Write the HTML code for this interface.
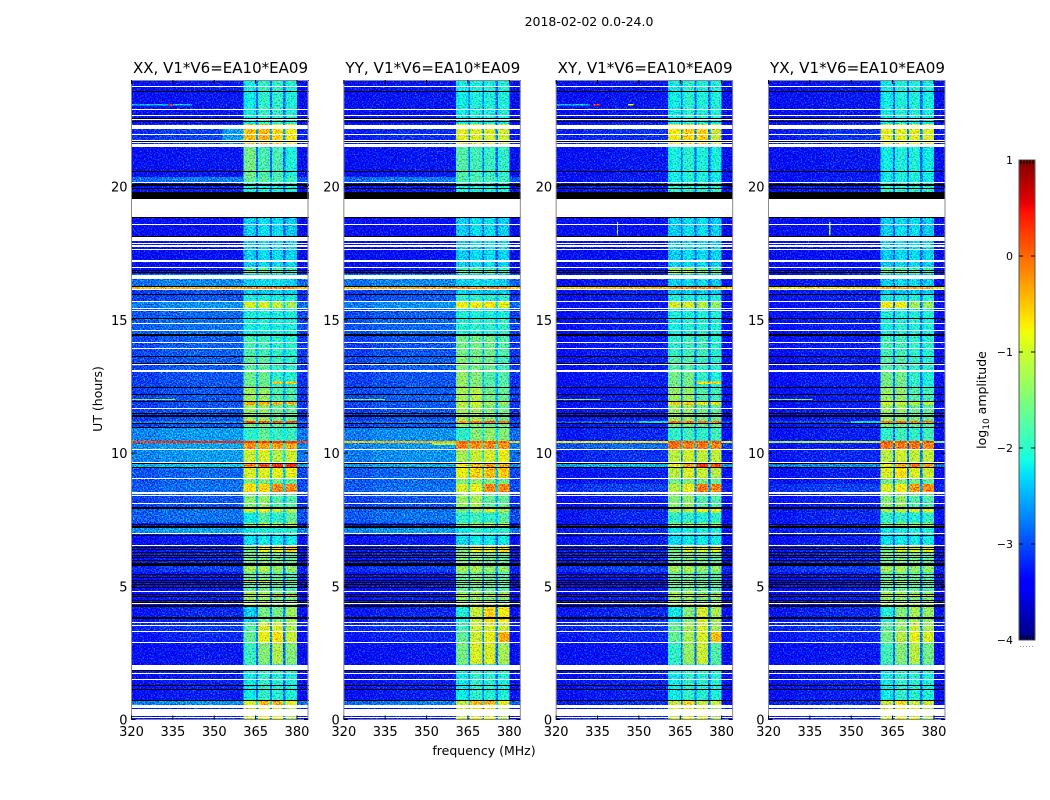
<!DOCTYPE html>
<html lang="en">
<head>
<meta charset="utf-8">
<title>2018-02-02 0.0-24.0</title>
<style>
  html, body { margin: 0; padding: 0; background: #fff; }
  svg { display: block; font-family: "DejaVu Sans", "Liberation Sans", sans-serif; fill: #000; }
</style>
</head>
<body>
<svg id="chart" width="1050" height="800" viewBox="0 0 1050 800">
  <defs>
    <filter id="speckle" x="0" y="0" width="1" height="1" color-interpolation-filters="sRGB">
      <feTurbulence type="fractalNoise" baseFrequency="0.72" numOctaves="2" seed="7" result="n"/>
      <feColorMatrix in="n" type="matrix" values="0.6 0 0 0 0.2  1.7 0 0 0 -0.35  0 1.2 0 0 -0.1  0 0 0 0 1" result="m"/>
      <feComposite in="SourceGraphic" in2="m" operator="arithmetic" k1="0" k2="1" k3="1" k4="-0.5"/>
    </filter>
  </defs>
  <text x="589" y="26" font-size="12.5" text-anchor="middle">2018-02-02 0.0-24.0</text>
  <text x="484" y="755" font-size="12.5" text-anchor="middle">frequency (MHz)</text>
  <text transform="translate(102,399) rotate(-90)" font-size="12.5" text-anchor="middle">UT (hours)</text>
  <text transform="translate(986,400) rotate(-90)" font-size="12.5" text-anchor="middle">log<tspan font-size="9" dy="3">10</tspan><tspan dy="-3"> amplitude</tspan></text>
  <g id="panels"></g>
  <g id="colorbar"></g>
</svg>
<script>
const panelTitles = ["XX, V1*V6=EA10*EA09", "YY, V1*V6=EA10*EA09", "XY, V1*V6=EA10*EA09", "YX, V1*V6=EA10*EA09"];
const freqTicks = [320, 335, 350, 365, 380];
const utTicks = [0, 5, 10, 15, 20];
const colorbarTicks = [1, 0, -1, -2, -3, -4];
const freqEdges = [320, 330, 340, 350, 360.6, 361.8, 364, 365.2, 365.8, 367, 369, 370.2, 370.9, 372, 374, 375, 375.9, 377, 379, 380, 384];
const columnSource = [0, 0, 0, 0, 1, 1, 1, 0, 2, 2, 2, 0, 3, 3, 3, 0, 4, 4, 4, 0];
const channelOffset = [-0.08, 0, 0.04, 0.04, -0.14, -0.03, -0.12, 0.5, -0.14, -0.03, -0.12, 0.5, -0.14, -0.03, -0.12, 0.5, -0.14, -0.03, -0.12, -0.15];

const segmentTopUT = [24, 22.34, 21.48, 20.36, 20.17, 18.85, 17.95, 16.94, 16.72, 16.51,
  16.23, 16.14, 15.97, 15.67, 15.42, 15.07, 14.39, 13.6, 13.08, 12.48,
  11.95, 11.8, 11.65, 11.2, 11.09, 10.98, 10.45, 10.38, 10.11, 9.62,
  9.46, 9.02, 8.84, 8.54, 8.39, 7.9, 7.77, 7.37, 7.19, 6.96,
  6.51, 6.29, 5.87, 5.74, 5.53, 5.23, 5.12, 4.82, 4.67, 4.6,
  4.33, 4.22, 3.66, 3.28, 2.87, 2.08, 0.71, 0.54];

/* log10 amplitude per time segment: [background, band A, band B, band C, band D] */
const xxLevels = [
[-3.35,-2.1,-1.9,-1.9,-2],[-3.1,-.4,-.35,-.55,-.7],[-3.35,-1.5,-1.75,-1.75,-2],[-2.8,-1.6,-1.6,-1.7,-1.8],[-3.3,-2,-2,-2,-2],
[-3.4,-2.3,-2.2,-2.2,-2.3],[-3.4,-2.3,-2.2,-2.2,-2.25],[-3.3,-1.6,-1.6,-1.7,-1.8],[-2.75,-2.3,-2.2,-2.2,-2.3],[-2.75,-2.3,-2.2,-2.2,-2.3],
[-.4,-.2,-.2,-.2,-.2],[-3,-2.3,-2.3,-2.3,-2.3],[-3,-2,-2,-2,-2],[-2.7,-.9,-.9,-1,-1.2],[-2.9,-2,-2,-2,-2],
[-2.85,-2.05,-2,-2,-2],[-2.95,-1.75,-1.8,-1.9,-1.95],[-2.95,-1.65,-1.65,-1.85,-1.9],[-3,-1.55,-1.55,-1.9,-1.95],[-3,-1.25,-1.3,-1.7,-1.75],
[-3,-.3,-.3,-.3,-.3],[-3,-1.3,-1.3,-1.6,-1.7],[-3,-1.3,-1.3,-1.5,-1.6],[-2.7,.25,.25,.25,.25],[-3,-1.5,-1.5,-1.6,-1.6],
[-2.65,-1.9,-1.6,-1.85,-1.85],[.35,.3,.3,.3,.3],[-2.6,-.15,-.2,-.2,-.25],[-2.65,-1,-.9,-1.1,-.95],[-2.4,-.1,.2,.45,.45],
[-2.9,-.9,-.85,-.8,-.8],[-2.9,-1.4,-1.4,-1.5,-1.6],[-2.85,-.6,-.5,-.1,-.1],[-2.95,-1.4,-1.3,-1.6,-1.6],[-3,-1.4,-1.3,-1.7,-1.7],
[-2.85,-.9,-.8,-1,-1.1],[-2.85,-2.1,-1.7,-1.9,-1.6],[-3.2,-1.3,-1,-1,-.9],[-2.6,-2.1,-2,-2,-1.9],[-3.3,-2.2,-2.1,-2.1,-2.1],
[-3.25,-1.5,-.8,-.8,-.5],[-3.25,-1.5,-1.4,-1.5,-1.6],[-3.25,-1.4,-1.3,-1.4,-1.5],[-3.1,-1.2,-1.15,-1.3,-1.3],[-3.35,-1.6,-1.5,-1.6,-1.7],
[-3.35,-.4,-.4,-1.3,-1.4],[-3.35,-1.6,-1.5,-1.6,-1.7],[-3.3,-1.2,-1.2,-1.4,-1.4],[-3.3,-1,-1,-.1,-.2],[-3.3,-1.3,-1.3,-1.4,-1.4],
[-3.3,-1.1,-1.1,-1.2,-1.2],[-3.25,-2.3,-1.5,-1.5,-1.25],[-3.15,-1.7,-.9,-.9,-1.2],[-3.25,-1.6,-.8,-.6,-1],[-3.35,-1.85,-1.4,-1.15,-1.4],
[-3.3,-2.1,-1.9,-1.95,-2],[-2.7,-.9,-.35,-.35,-.8],[-3.3,-1,-.8,-.8,-1.2]];

const yyLevels = [
[-3.35,-2.1,-2,-2,-2],[-3.2,-.85,-.9,-.9,-.95],[-3.35,-1.7,-1.8,-1.85,-1.9],[-2.8,-1.7,-1.7,-1.75,-1.8],[-3.3,-2,-2,-2,-2],
[-3.4,-2.3,-2.2,-2.2,-2.3],[-3.4,-2.3,-2.2,-2.2,-2.25],[-3.3,-1.7,-1.7,-1.75,-1.8],[-2.75,-2.3,-2.2,-2.2,-2.3],[-2.75,-2.3,-2.2,-2.2,-2.3],
[-.4,-.2,-.2,-.2,-.2],[-3,-2.3,-2.3,-2.3,-2.3],[-3,-1.9,-1.9,-1.9,-1.9],[-2.7,-.75,-.7,-.6,-.8],[-2.95,-2,-2,-2,-2],
[-2.9,-1.95,-1.9,-1.9,-1.9],[-3,-1.5,-1.5,-1.5,-1.7],[-2.95,-1.4,-1.5,-1.5,-1.8],[-3,-1.3,-1.4,-1.7,-1.7],[-2.95,-1.2,-1.1,-1.5,-1.6],
[-2.95,-1,-.9,-1.2,-1.2],[-3,-1.2,-1.1,-1.5,-1.6],[-3,-1.2,-1.2,-1.4,-1.5],[-2.8,-.2,0,.2,.1],[-3,-1.4,-1.4,-1.5,-1.5],
[-2.7,-1.9,-1.4,-1.3,-1.4],[-.4,.1,.1,.1,.1],[-2.65,-.05,-.15,-.1,-.2],[-2.7,-1.2,-1,-.9,-.8],[-2.55,-.7,-.4,-.2,-.3],
[-2.9,-.8,-.5,-.4,-.45],[-2.9,-1.4,-1.3,-1.4,-1.5],[-2.85,-.9,-.8,-.1,-.1],[-2.95,-1.3,-1.2,-1.5,-1.5],[-3,-1.3,-1.2,-1.6,-1.6],
[-2.85,-1.5,-1.3,-.9,-1.2],[-2.85,-1.9,-1.8,-1.9,-1.7],[-3.2,-1.4,-1.1,-1,-1],[-2.65,-2.1,-1.9,-2,-1.9],[-3.3,-2.2,-2.1,-2.1,-2.1],
[-3.25,-1.4,-.8,-.8,-.6],[-3.25,-1.4,-1.4,-1.5,-1.6],[-3.25,-1.3,-1.3,-1.4,-1.5],[-3.1,-1.2,-1.15,-1.3,-1.3],[-3.35,-1.6,-1.5,-1.6,-1.7],
[-3.35,-1.5,-1.1,-1.5,-1.4],[-3.35,-1.6,-1.5,-1.6,-1.7],[-3.3,-1.3,-1.2,-1.4,-1.3],[-3.3,-1,-1,-.7,-.3],[-3.3,-1.3,-1.3,-1.4,-1.4],
[-3.3,-1.1,-1.1,-1.2,-1.2],[-3.25,-2,-1,-.5,-.7],[-3.15,-1.8,-1,-.9,-1],[-3.25,-1.6,-1,-.8,-.3],[-3.35,-1.5,-.9,-.9,-1.2],
[-3.3,-2.1,-1.9,-1.95,-2],[-2.8,-1,-.3,-.3,-.8],[-3.3,-1,-.8,-.8,-1.2]];

const xyLevels = [
[-3.35,-2.1,-1.95,-2,-2],[-3.2,-.7,-.5,-.5,-1],[-3.35,-2.05,-1.95,-2,-2.05],[-3.3,-2.1,-2,-2,-2.1],[-3.3,-1.9,-1.9,-1.9,-1.9],
[-3.4,-2.3,-2.2,-2.2,-2.3],[-3.4,-2.3,-2.2,-2.2,-2.25],[-3.3,-1.2,-1.2,-1.5,-1.6],[-3.3,-2.3,-2.2,-2.2,-2.3],[-3.3,-2.3,-2.2,-2.2,-2.3],
[-.5,-.2,-.2,-.2,-.2],[-3.3,-2.3,-2.3,-2.3,-2.3],[-3.3,-2,-2,-2,-2],[-3.35,-.9,-.9,-1.1,-1.3],[-3.3,-2,-2,-2,-2],
[-3.3,-2.05,-1.95,-1.95,-2],[-3.3,-1.9,-1.8,-1.8,-1.95],[-3.3,-1.7,-1.7,-1.85,-1.95],[-3.3,-1.5,-1.5,-1.9,-2],[-3.3,-1.3,-1.3,-1.7,-1.8],
[-3.3,-.5,-.5,-.6,-.6],[-3.3,-1.3,-1.3,-1.6,-1.7],[-3.3,-1.3,-1.3,-1.5,-1.6],[-2.9,0,0,0,0],[-3.3,-1.5,-1.5,-1.6,-1.6],
[-3.25,-1.9,-1.8,-1.9,-1.8],[-.7,.2,.2,.2,.2],[-2.9,0,-.05,0,-.1],[-3.2,-1.1,-.95,-1.05,-1.05],[-2.5,-.8,-.2,.4,.2],
[-3.3,-1.1,-.9,-1,-1.1],[-3.3,-1.5,-1.4,-1.5,-1.6],[-3.1,-1.1,-.8,0,-.1],[-3.2,-1.4,-1.3,-1.6,-1.6],[-3.3,-1.4,-1.3,-1.7,-1.7],
[-3.25,-1.2,-1.1,-.8,-.8],[-3.25,-1.9,-1.9,-2,-1.9],[-3.25,-1.3,-1.1,-1.1,-1.1],[-3.2,-2.1,-2,-2,-2],[-3.3,-2.2,-2.1,-2.1,-2.1],
[-3.25,-1.5,-.9,-.9,-.8],[-3.25,-1.5,-1.4,-1.5,-1.6],[-3.25,-1.4,-1.3,-1.4,-1.5],[-3.1,-1.2,-1.15,-1.3,-1.3],[-3.35,-1.6,-1.5,-1.6,-1.7],
[-3.35,-1.2,-1.2,-1.4,-1.4],[-3.35,-1.6,-1.5,-1.6,-1.7],[-3.3,-1.2,-1.2,-1.4,-1.4],[-3.3,-1,-1,-.6,-.5],[-3.3,-1.3,-1.3,-1.4,-1.4],
[-3.3,-1.1,-1.1,-1.2,-1.2],[-3.25,-2.1,-1.4,-.9,-1.2],[-3.15,-1.6,-1.2,-.9,-1.2],[-3.25,-1.6,-1.2,-.9,-.4],[-3.35,-1.9,-1.3,-1,-1.7],
[-3.3,-2.1,-1.9,-1.95,-2],[-3.2,-1,-.5,-1,-1],[-3.3,-1,-.8,-.8,-1.2]];

const yxLevels = [
[-3.35,-2.1,-2,-2,-2.05],[-3.2,-.85,-.85,-.85,-.9],[-3.35,-2.1,-2,-2,-2.1],[-3.3,-2.1,-2,-2,-2.1],[-3.3,-1.9,-1.9,-1.9,-1.9],
[-3.4,-2.3,-2.2,-2.2,-2.3],[-3.4,-2.3,-2.2,-2.2,-2.25],[-3.3,-1.6,-1.6,-1.7,-1.8],[-3.3,-2.3,-2.2,-2.2,-2.3],[-3.3,-2.3,-2.2,-2.2,-2.3],
[-.7,-.3,-.3,-.3,-.3],[-3.3,-2.3,-2.3,-2.3,-2.3],[-3.3,-2,-2,-2,-2],[-3.35,-.7,-.7,-1.2,-1.3],[-3.3,-2,-2,-2,-2],
[-3.3,-2.05,-1.95,-1.95,-2],[-3.3,-1.8,-1.8,-1.9,-1.95],[-3.3,-1.7,-1.7,-1.85,-1.95],[-3.3,-1.5,-1.5,-1.9,-2],[-3.3,-1.3,-1.3,-1.7,-1.8],
[-3.3,-.9,-.9,-1,-1],[-3.3,-1.3,-1.3,-1.6,-1.7],[-3.3,-1.3,-1.3,-1.5,-1.6],[-3,0,0,0,0],[-3.3,-1.5,-1.5,-1.6,-1.6],
[-3.3,-1.9,-1.8,-1.9,-1.8],[-1.2,.2,.2,.2,.2],[-3.3,0,-.05,0,-.1],[-3.25,-1.1,-.95,-1.05,-1.05],[-2.7,-.8,-.3,0,-.2],
[-3.3,-.9,-.6,-.9,-1],[-3.3,-1.5,-1.4,-1.5,-1.6],[-3.1,-.9,-.7,-.2,-.1],[-3.2,-1.4,-1.3,-1.6,-1.6],[-3.3,-1.4,-1.3,-1.7,-1.7],
[-3.25,-1.2,-1.1,-.9,-.9],[-3.25,-1.9,-1.9,-2,-1.9],[-3.25,-1.3,-1.1,-1.1,-1.1],[-3.2,-2.1,-2,-2,-2],[-3.3,-2.2,-2.1,-2.1,-2.1],
[-3.25,-1.5,-.9,-.9,-.8],[-3.25,-1.5,-1.4,-1.5,-1.6],[-3.25,-1.4,-1.3,-1.4,-1.5],[-3.1,-1.2,-1.15,-1.3,-1.3],[-3.35,-1.6,-1.5,-1.6,-1.7],
[-3.35,-1.2,-1.2,-1.4,-1.4],[-3.35,-1.6,-1.5,-1.6,-1.7],[-3.3,-1.2,-1.2,-1.4,-1.4],[-3.3,-1,-1,-.6,-.5],[-3.3,-1.3,-1.3,-1.4,-1.4],
[-3.3,-1.1,-1.1,-1.2,-1.2],[-3.25,-2,-1.4,-1.2,-1.3],[-3.15,-1.6,-1.3,-1,-1.2],[-3.25,-1.5,-1.1,-.8,-.9],[-3.35,-1.8,-1.4,-1.1,-1.5],
[-3.3,-2.1,-1.9,-1.95,-2],[-3.2,-1,-.6,-1,-1],[-3.3,-1,-.8,-.8,-1.2]];

const panelLevels = [xxLevels, yyLevels, xyLevels, yxLevels];

/* flagged time ranges, top and bottom UT hours, common to all polarisations */
const whiteFlagTop = [23.79,22.91,22.70,22.53,22.31,21.99,21.76,21.67,21.58,20.19,19.53,18.59,18.09,17.87,17.79,17.64,17.23,16.98,16.70,16.15,15.69,15.44,15.37,14.87,14.60,14.17,13.96,13.34,13.10,11.69,10.14,9.66,9.08,8.52,8.42,8.11,7.00,6.55,4.84,4.37,3.66,3.55,3.34,2.91,2.03,1.74,1.52,0.54,0.39,0.08];
const whiteFlagBottom = [23.75,22.87,22.66,22.50,22.16,21.95,21.73,21.63,21.48,20.15,18.87,18.55,17.95,17.83,17.75,17.61,17.18,16.94,16.53,16.12,15.65,15.40,15.33,14.83,14.57,14.12,13.92,13.30,13.06,11.65,10.10,9.62,9.02,8.48,8.39,8.07,6.96,6.51,4.80,4.32,3.62,3.51,3.28,2.87,1.86,1.71,1.48,0.43,0.13,0.04];
const blackFlagTop = [24.00,23.59,22.59,22.48,21.73,20.58,20.09,19.94,19.79,18.87,18.14,16.87,16.79,16.27,15.98,15.07,14.47,13.64,13.38,12.48,12.20,11.95,11.50,11.41,11.13,10.99,9.62,9.47,7.97,7.35,7.26,6.92,6.47,6.39,6.29,6.17,6.10,6.00,5.87,5.46,5.35,5.25,5.16,5.07,4.97,4.71,4.62,4.50,4.41,4.30,3.83,2.06,1.86,1.31,1.16,0.73];
const blackFlagBottom = [23.95,23.55,22.55,22.46,21.67,20.54,20.02,19.91,19.53,18.82,18.09,16.83,16.75,16.23,15.95,15.03,14.39,13.60,13.34,12.44,12.16,11.91,11.46,11.37,11.09,10.96,9.59,9.44,7.90,7.32,7.20,6.89,6.44,6.36,6.25,6.14,6.06,5.97,5.76,5.42,5.31,5.22,5.12,5.03,4.93,4.67,4.58,4.47,4.37,4.22,3.79,2.03,1.82,1.28,1.13,0.69];

/* narrow interference features: panel index, UT top, UT bottom, start MHz, end MHz, level */
const accentPanel = [0, 0, 2, 2, 2, 0, 1, 2, 3, 0, 0, 2, 2, 3, 0, 2, 3, 1];
const accentTop = [23.09, 23.09, 23.09, 23.09, 23.09, 22.2, 12.03, 12.03, 12.03, 12.03, 12.68, 12.68, 18.67, 18.67, 12.68, 11.2, 11.2, 10.4];
const accentBottom = [23.05, 23.05, 23.05, 23.05, 23.05, 21.5, 11.99, 11.99, 11.99, 11.99, 12.6, 12.6, 18.16, 18.16, 12.6, 11.1, 11.1, 10.3];
const accentStart = [320, 333.5, 320, 333.5, 346, 353, 320, 320, 320, 320, 370.9, 370.9, 342, 342, 375.9, 350, 350, 352];
const accentEnd = [342, 335, 332, 336, 348, 360.6, 335, 336, 336, 336, 375, 380, 342.4, 342.4, 380, 360.6, 360.6, 360.6];
const accentLevel = [-2.4, .3, -2.4, .3, -.8, -2.6, -1.4, -1.4, -1.4, -1.4, -.5, -.6, -1.2, -1.2, -.5, -2.3, -2.3, -1.2];

const SVG_NS = "http://www.w3.org/2000/svg";
const panelWidth = 176.5;
const plotTop = 80;
const plotBottom = 719.5;
const cbarLeft = 1019;
const cbarWidth = 16;
const cbarTop = 160;
const cbarBottom = 640;

function panelLeft(p) { return 131.5 + p * 212.33; }
function xScale(p, mhz) { return panelLeft(p) + (mhz - 320) / 64 * panelWidth; }
function yScale(ut) { return plotBottom - ut / 24 * (plotBottom - plotTop); }
function levelScale(v) { return cbarTop + (1 - v) / 5 * (cbarBottom - cbarTop); }

function ramp(t, pts) {
  for (let i = 1; i < pts.length; i++) {
    if (t <= pts[i][0]) {
      const a = pts[i - 1], b = pts[i];
      return a[1] + (b[1] - a[1]) * (t - a[0]) / (b[0] - a[0]);
    }
  }
  return pts[pts.length - 1][1];
}
function jet(v) {
  const t = Math.min(1, Math.max(0, (v + 4) / 5));
  const r = ramp(t, [[0, 0], [.35, 0], [.66, 1], [.89, 1], [1, .5]]);
  const g = ramp(t, [[0, 0], [.125, 0], [.375, 1], [.64, 1], [.91, 0], [1, 0]]);
  const b = ramp(t, [[0, .5], [.11, 1], [.34, 1], [.65, 0], [1, 0]]);
  return "rgb(" + Math.round(r * 255) + "," + Math.round(g * 255) + "," + Math.round(b * 255) + ")";
}
function rect(parent, x, y, w, h, fill) {
  const el = document.createElementNS(SVG_NS, "rect");
  el.setAttribute("x", x);
  el.setAttribute("y", y);
  el.setAttribute("width", w);
  el.setAttribute("height", h);
  el.setAttribute("fill", fill);
  parent.appendChild(el);
  return el;
}
function flagRect(parent, p, top, bottom, fill) {
  const y0 = Math.round(yScale(top));
  const y1 = Math.max(y0 + 1, Math.round(yScale(bottom)));
  return rect(parent, Math.round(panelLeft(p)), y0, Math.round(panelWidth), y1 - y0, fill);
}
function line(parent, x1, y1, x2, y2, stroke) {
  const el = document.createElementNS(SVG_NS, "line");
  el.setAttribute("x1", x1);
  el.setAttribute("y1", y1);
  el.setAttribute("x2", x2);
  el.setAttribute("y2", y2);
  el.setAttribute("stroke", stroke);
  parent.appendChild(el);
  return el;
}
function label(parent, x, y, str, size, anchor) {
  const el = document.createElementNS(SVG_NS, "text");
  el.setAttribute("x", x);
  el.setAttribute("y", y);
  el.setAttribute("font-size", size);
  el.setAttribute("text-anchor", anchor);
  el.textContent = str;
  parent.appendChild(el);
  return el;
}

const panelsRoot = document.getElementById("panels");
panelTitles.forEach(function (title, p) {
  const g = document.createElementNS(SVG_NS, "g");
  
  
  panelsRoot.appendChild(g);

  const heat = document.createElementNS(SVG_NS, "g");
  
  
  heat.setAttribute("filter", "url(#speckle)");
  heat.setAttribute("shape-rendering", "crispEdges");
  g.appendChild(heat);

  const levels = panelLevels[p];
  segmentTopUT.forEach(function (top, s) {
    const bottom = s + 1 < segmentTopUT.length ? segmentTopUT[s + 1] : 0;
    columnSource.forEach(function (src, c) {
      const v = levels[s][src] + channelOffset[c];
      const x0 = xScale(p, freqEdges[c]);
      const x1 = xScale(p, freqEdges[c + 1]);
      const cell = rect(heat, x0, yScale(top), x1 - x0, yScale(bottom) - yScale(top), jet(v));
      
      
    });
  });

  accentPanel.forEach(function (ap, i) {
    if (ap !== p) return;
    const x0 = xScale(p, accentStart[i]);
    const x1 = xScale(p, accentEnd[i]);
    const feature = rect(heat, x0, yScale(accentTop[i]), x1 - x0, yScale(accentBottom[i]) - yScale(accentTop[i]), jet(accentLevel[i]));
    
    
  });

  const flags = document.createElementNS(SVG_NS, "g");
  
  
  flags.setAttribute("shape-rendering", "crispEdges");
  g.appendChild(flags);

  blackFlagTop.forEach(function (top, i) {
    const row = flagRect(flags, p, top, blackFlagBottom[i], "#000");
    
    
  });
  whiteFlagTop.forEach(function (top, i) {
    const row = flagRect(flags, p, top, whiteFlagBottom[i], "#fff");
    
    
  });

  const frame = rect(g, panelLeft(p), plotTop + 0.5, panelWidth, plotBottom - plotTop - 0.5, "none");
  frame.setAttribute("stroke", "#8a8a8a");
  frame.setAttribute("stroke-width", "1");
  
  

  const titleEl = label(g, panelLeft(p) + 1.5, 73, title, 15, "start");
  titleEl.setAttribute("textLength", "175");
  titleEl.setAttribute("lengthAdjust", "spacingAndGlyphs");
  
  

  freqTicks.forEach(function (f) {
    const x = xScale(p, f);
    const tb = line(g, x, plotBottom, x, plotBottom - 4, "#000");
    
    
    const tt = line(g, x, plotTop, x, plotTop + 4, "#000");
    
    
    const xl = label(g, x, 736, String(f), 13, "middle");
    
    
  });
  utTicks.forEach(function (u) {
    const y = yScale(u);
    const tl = line(g, panelLeft(p), y, panelLeft(p) + 4, y, "#000");
    
    
    const tr = line(g, panelLeft(p) + panelWidth, y, panelLeft(p) + panelWidth - 4, y, "#000");
    
    
    const yl = label(g, panelLeft(p) - 4, y + 5, String(u), 13, "end");
    
    
  });
});

const cbar = document.getElementById("colorbar");
const cbarRamp = document.createElementNS(SVG_NS, "g");


cbarRamp.setAttribute("shape-rendering", "crispEdges");
cbar.appendChild(cbarRamp);
for (let y = cbarTop; y < cbarBottom; y += 2) {
  const v = 1 - (y + 1 - cbarTop) / (cbarBottom - cbarTop) * 5;
  const swatch = rect(cbarRamp, cbarLeft, y, cbarWidth, 2, jet(v));
  
  
}
const cbarFrame = rect(cbar, cbarLeft, cbarTop, cbarWidth, cbarBottom - cbarTop, "none");
cbarFrame.setAttribute("stroke", "#555");
cbarFrame.setAttribute("stroke-width", "1");


colorbarTicks.forEach(function (v) {
  const y = levelScale(v);
  const text = v < 0 ? "\u2212" + Math.abs(v) : String(v);
  const tickLabel = label(cbar, 1013, y + 4, text, 11, "end");
  
  
  if (v === 1 || v === -4) return;
  const a = line(cbar, cbarLeft, y, cbarLeft + 4, y, "#000");
  
  
  const b = line(cbar, cbarLeft + cbarWidth, y, cbarLeft + cbarWidth - 4, y, "#000");
  
  
});
for (let i = 0; i < 5; i++) {
  const x = cbarLeft + 2 + i * 3;
  const top = line(cbar, x, cbarTop, x, cbarTop + 4, "#000");
  
  
  const bot = line(cbar, x, cbarBottom, x, cbarBottom - 4, "#000");
  
  
  const dot = rect(cbar, x - 1, 646, 1, 1, "#999");
  
  
}
</script>
</body>
</html>
